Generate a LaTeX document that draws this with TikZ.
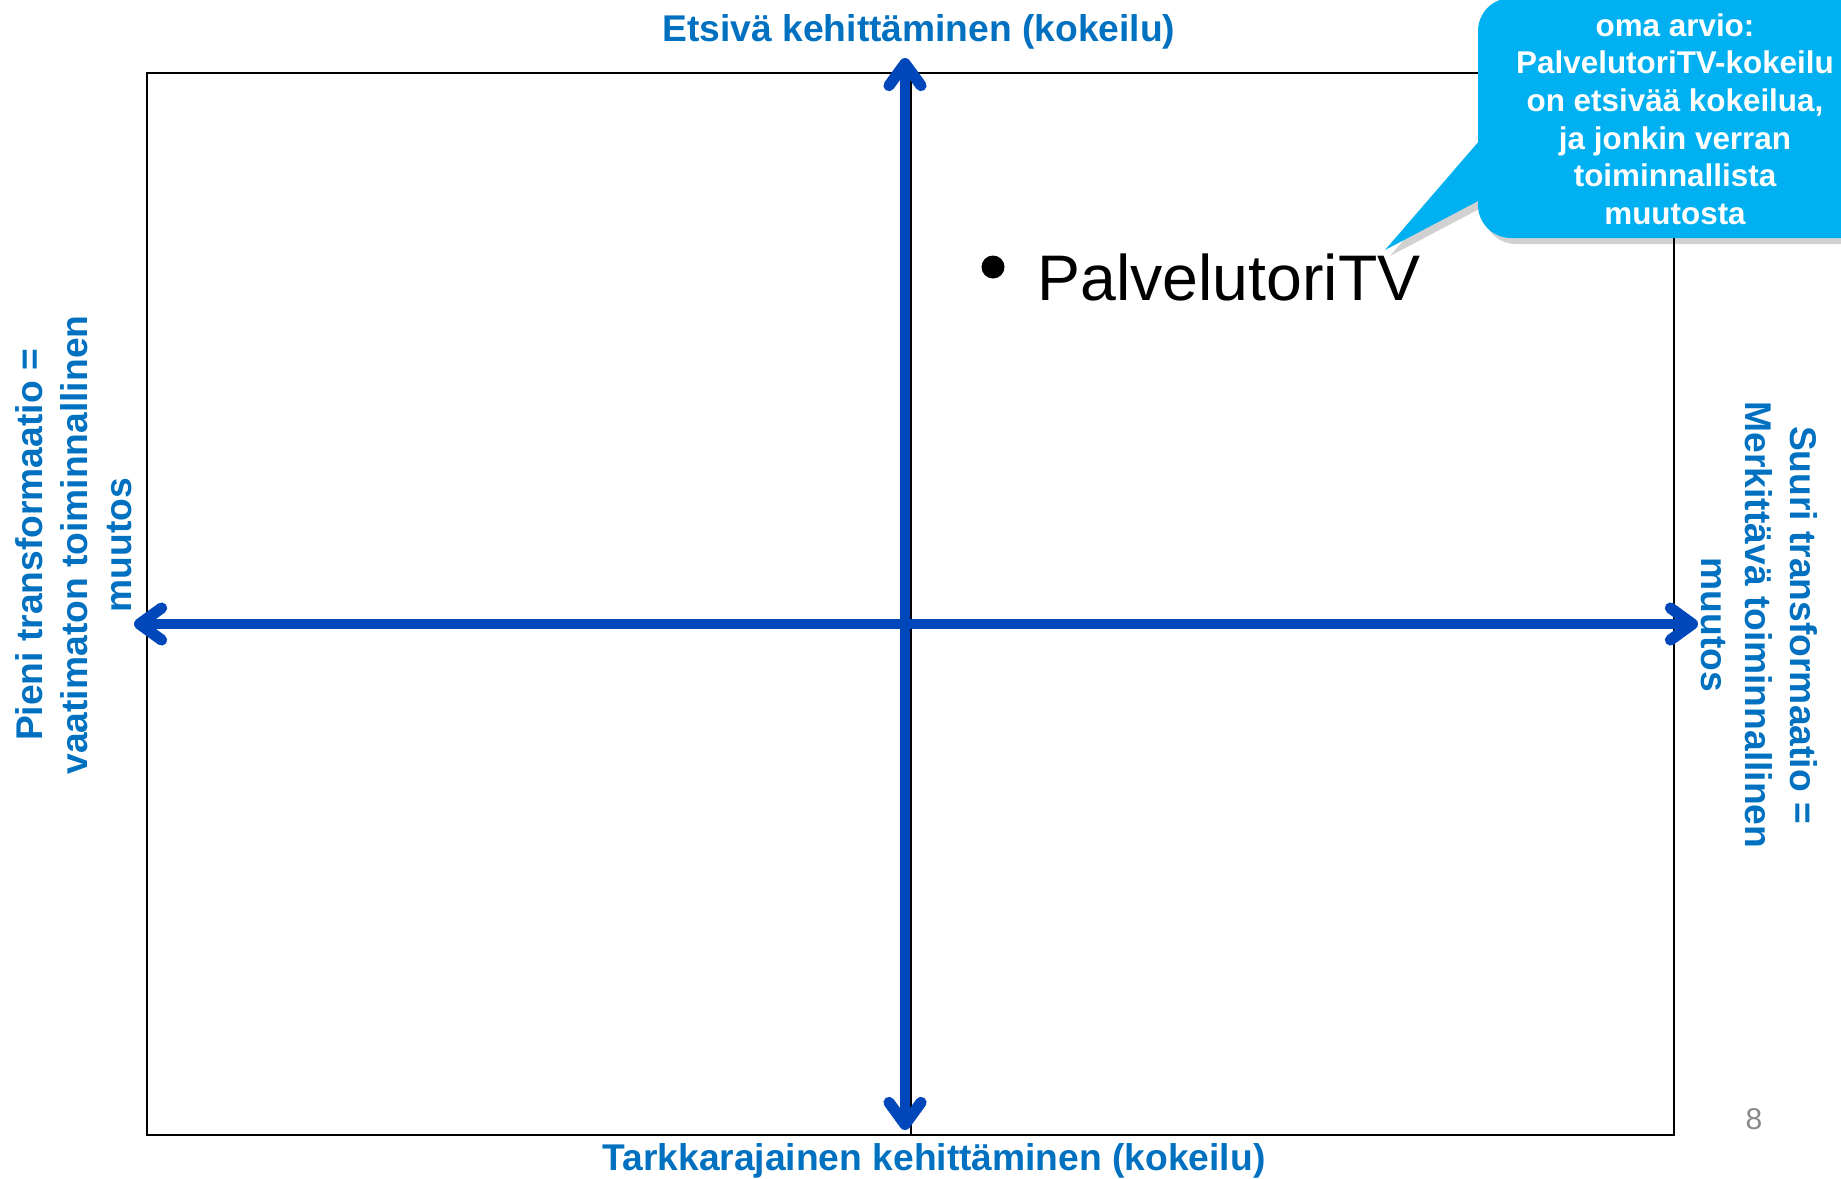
\documentclass[tikz,border=0pt]{standalone}
\usepackage{fontspec}
\setmainfont{Liberation Sans}
\usetikzlibrary{arrows.meta}
\definecolor{axisblue}{RGB}{0,71,187}
\definecolor{labelblue}{RGB}{0,112,192}
\definecolor{callcyan}{RGB}{0,176,240}
\definecolor{pagegray}{RGB}{137,137,137}
\begin{document}
\begin{tikzpicture}[x=0.5pt,y=-0.5pt,
  frameline/.style={draw=black, line width=1.2pt},
  axisarrow/.style={draw=axisblue, line width=4.6pt,
    {Straight Barb[length=11pt,width=16pt,round,line width=5.6pt]}-{Straight Barb[length=11pt,width=16pt,round,line width=5.6pt]}},
  axislabel/.style={text=labelblue, font=\bfseries\fontsize{18.6}{22.3}\selectfont, align=center, inner sep=0pt},
  calltext/.style={text=white, font=\bfseries\fontsize{15.7}{18.8}\selectfont, align=center, inner sep=0pt}]
\useasboundingbox (0,0) rectangle (1841,1178);
\clip (0,0) rectangle (1841,1178);
% frame and divider
\draw[frameline] (147,73) rectangle (1674,1135);
\coordinate (divtop) at (911,73);
\coordinate (divbot) at (911,1135);
\draw[frameline] (divtop) -- (divbot);
% axes
\coordinate (vtop) at (905,58);
\coordinate (vbot) at (905,1130);
\coordinate (hleft) at (134,624);
\coordinate (hright) at (1698,624);
\draw[axisarrow] (vbot) -- (vtop);
\draw[axisarrow] (hleft) -- (hright);
% axis labels
\node[axislabel, anchor=base] (toplab) at (919,41) {Etsivä kehittäminen (kokeilu)};
\node[axislabel, anchor=base] (botlab) at (934,1170) {Tarkkarajainen kehittäminen (kokeilu)};
\node[axislabel, rotate=90] (leftlab) at (74,545) {Pieni transformaatio =\\vaatimaton toiminnallinen\\muutos};
\node[axislabel, rotate=-90] (rightlab) at (1759,625) {Suuri transformaatio =\\Merkittävä toiminnallinen\\muutos};
% item
\node[circle, fill=black, minimum size=11.5pt, inner sep=0pt] (bullet) at (993,267) {};
\node[anchor=base west, inner sep=0pt, font=\fontsize{32.2}{38}\selectfont] (ptv) at (1037,300) {PalvelutoriTV};
% callout shadow
\begin{scope}[shift={(5,6)}]
\fill[black, opacity=0.18, rounded corners=16.5pt] (1478,-2) rectangle (1920,238);
\fill[black, opacity=0.18] (1480,140) -- (1385,250) -- (1480,200) -- cycle;
\end{scope}
% callout
\coordinate (calltip) at (1385,250);
\fill[callcyan, rounded corners=16.5pt] (1478,-2) rectangle (1920,238);
\fill[callcyan] (1480,140) -- (calltip) -- (1480,200) -- cycle;
\node[calltext] (callnote) at (1675,119) {oma arvio:\\PalvelutoriTV-kokeilu\\on etsivää kokeilua,\\ja jonkin verran\\toiminnallista\\muutosta};
% page number
\node[text=pagegray, font=\fontsize{15}{18}\selectfont, anchor=base, inner sep=0pt] (pagenum) at (1754,1129) {8};
\end{tikzpicture}
\end{document}
